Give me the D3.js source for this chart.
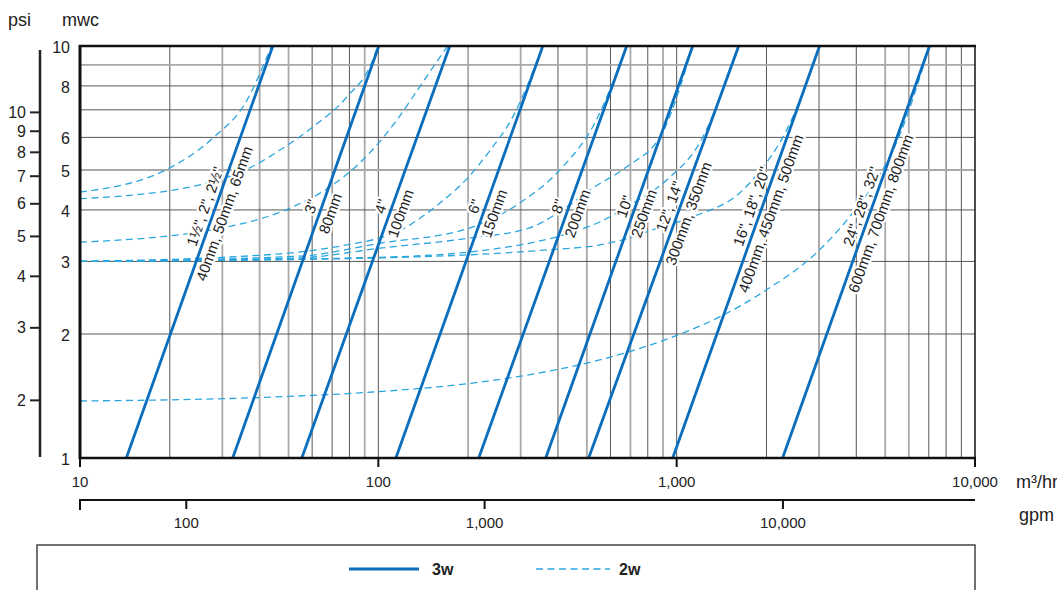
<!DOCTYPE html>
<html>
<head>
<meta charset="utf-8">
<script src="https://cdn.jsdelivr.net/npm/d3@7"></script>
<style>
  body { margin: 0; background: #fff; }
  svg { display: block; font-family: "Liberation Sans", Arial, sans-serif; }
  text { fill: #222; }
</style>
</head>
<body>
<svg width="1057" height="590"></svg>
<script>
// Valve sizes (one solid 3w line + one dashed 2w curve each)
const sizesInch = ['1½", 2", 2½"', '3"', '4"', '6"', '8"', '10"', '12", 14"', '16", 18", 20"', '24", 28", 32"'];
const sizesMm = ["40mm, 50mm, 65mm", "80mm", "100mm", "150mm", "200mm", "250mm", "300mm, 350mm", "400mm, 450mm, 500mm", "600mm, 700mm, 800mm"];

// 3w: flow (m3/hr) at 1 mwc and at 10 mwc
const flowAt1 = [14.3, 32.5, 55.4, 114.5, 217, 364, 507, 970, 2265];
const flowAt10 = [44.3, 100.4, 173.6, 356, 680, 1132, 1614, 3013, 7040];

// 2w curves: [flow m3/hr, head mwc]
const twoWay15 = [[10, 4.42], [20, 5.06], [27.9, 5.98], [36.3, 7.39], [42.3, 9.4], [43.8, 10]];
const twoWay3 = [[10, 4.26], [25.2, 4.6], [37.1, 5.06], [46.8, 5.59], [60.3, 6.36], [78.4, 7.52], [95.8, 9.25], [99.5, 10]];
const twoWay4 = [[10, 3.34], [30.1, 3.62], [51.7, 4.07], [68.8, 4.55], [88.7, 5.29], [115.3, 6.61], [130.5, 7.52], [164.4, 9.61], [171, 10]];
const twoWay6 = [[10, 3.0], [46.8, 3.13], [78.4, 3.29], [101, 3.42], [118, 3.56], [138, 3.82], [167, 4.25], [198, 4.76], [236, 5.56], [282, 6.72], [356, 10]];
const twoWay8 = [[10, 3.0], [54.6, 3.09], [101, 3.32], [203, 3.62], [298, 4.16], [415, 5.09], [523, 6.36], [680, 10]];
const twoWay10 = [[10, 3.0], [54.6, 3.06], [101, 3.23], [203, 3.42], [322, 3.62], [405, 3.96], [523, 4.52], [680, 5.09], [898, 6.18], [1132, 10]];
const twoWay12 = [[10, 3.0], [101, 3.07], [255, 3.23], [473, 3.58], [552, 3.74], [696, 4.11], [926, 4.73], [1194, 5.82], [1614, 10]];
const twoWay16 = [[10, 3.0], [101, 3.06], [367, 3.2], [552, 3.29], [712, 3.44], [831, 3.58], [1131, 3.85], [1626, 4.4], [1941, 5.06], [2336, 6.25], [3013, 10]];
const twoWay24 = [[10, 1.375], [44.3, 1.406], [95.8, 1.446], [207, 1.52], [348, 1.61], [552, 1.73], [1047, 2.01], [1393, 2.2], [2002, 2.56], [2944, 3.15], [3799, 3.85], [4677, 4.73], [5500, 5.91], [7040, 10]];
const twoWayCurves = [twoWay15, twoWay3, twoWay4, twoWay6, twoWay8, twoWay10, twoWay12, twoWay16, twoWay24];

// Axis ticks
const mwcTicks = [1, 2, 3, 4, 5, 6, 8, 10];
const psiTicks = [2, 3, 4, 5, 6, 7, 8, 9, 10];
const m3hTicks = [10, 100, 1000, 10000];
const gpmTicks = [100, 1000, 10000];
const lightGridX = [30, 40, 50, 90, 200, 300, 500, 700, 900, 5000, 6000];
const lightGridY = [5, 9];

const PSI_TO_MWC = 0.69;
const M3H_TO_GPM = 4.403;
const LABEL_HEAD = 4.0;

const svg = d3.select("svg");
const x = d3.scaleLog().domain([10, 10000]).range([80, 975]);
const y = d3.scaleLog().domain([1, 10]).range([458, 46]);
const fmt = d3.format(",");

const solidColor = "#0a6ebd";
const dashColor = "#2aa6df";

// Grid
const gridX = [];
[10, 100, 1000].forEach((d) => {
  for (let k = 1; k <= 9; k++) if (k * d > 10) gridX.push(k * d);
});
const gridY = [2, 3, 4, 5, 6, 7, 8, 9];

const grid = svg.append("g").attr("class", "grid");
grid
  .selectAll("line.gx")
  .data(gridX)
  .enter()
  .append("line")
  .attr("x1", (d) => x(d))
  .attr("x2", (d) => x(d))
  .attr("y1", y(10))
  .attr("y2", y(1))
  .attr("stroke", (d) => (lightGridX.includes(d) ? "#a9a9a9" : "#444"))
  .attr("stroke-width", (d) => (lightGridX.includes(d) ? 1.8 : 0.9));
grid
  .selectAll("line.gy")
  .data(gridY)
  .enter()
  .append("line")
  .attr("x1", x(10))
  .attr("x2", x(10000))
  .attr("y1", (d) => y(d))
  .attr("y2", (d) => y(d))
  .attr("stroke", (d) => (lightGridY.includes(d) ? "#a9a9a9" : "#444"))
  .attr("stroke-width", (d) => (lightGridY.includes(d) ? 1.8 : 0.9));

// 2w dashed curves
const curveLine = d3
  .line()
  .x((d) => x(d[0]))
  .y((d) => y(d[1]))
  .curve(d3.curveMonotoneX);

svg
  .append("g")
  .selectAll("path")
  .data(twoWayCurves)
  .enter()
  .append("path")
  .attr("d", curveLine)
  .attr("fill", "none")
  .attr("stroke", dashColor)
  .attr("stroke-width", 1.3)
  .attr("stroke-dasharray", "7,4.5");

// Size labels along the 3w lines
const labels = svg.append("g");
flowAt1.forEach((q1, i) => {
  const x1 = x(q1), y1 = y(1), x2 = x(flowAt10[i]), y2 = y(10);
  const angle = (Math.atan2(y2 - y1, x2 - x1) * 180) / Math.PI;
  const t = (y(1) - y(LABEL_HEAD)) / (y(1) - y(10));
  const px = x1 + t * (x2 - x1);
  const py = y1 + t * (y2 - y1);
  const g = labels.append("g").attr("transform", `translate(${px},${py}) rotate(${angle})`);
  [[sizesInch[i], -5], [sizesMm[i], 15.5]].forEach(([txt, dy]) => {
    g.append("text")
      .attr("y", dy)
      .attr("text-anchor", "middle")
      .attr("font-size", 15)
      .attr("stroke", "#fff")
      .attr("stroke-width", 4.5)
      .attr("stroke-linejoin", "round")
      .attr("paint-order", "stroke")
      .text(txt);
  });
});

// 3w solid lines
svg
  .append("g")
  .selectAll("line")
  .data(flowAt1)
  .enter()
  .append("line")
  .attr("x1", (d) => x(d))
  .attr("y1", y(1))
  .attr("x2", (d, i) => x(flowAt10[i]))
  .attr("y2", y(10))
  .attr("stroke", solidColor)
  .attr("stroke-width", 2.8);

// Plot frame
const frame = svg.append("g").attr("stroke", "#111");
frame.append("line").attr("x1", 79).attr("x2", 976).attr("y1", y(10)).attr("y2", y(10)).attr("stroke-width", 2.5);
frame.append("line").attr("x1", 79).attr("x2", 976).attr("y1", y(1)).attr("y2", y(1)).attr("stroke-width", 2.5);
frame.append("line").attr("x1", 80).attr("x2", 80).attr("y1", y(10) - 1).attr("y2", y(1) + 1).attr("stroke-width", 3);
frame.append("line").attr("x1", 975).attr("x2", 975).attr("y1", y(10)).attr("y2", y(1)).attr("stroke-width", 1.5);

// mwc labels
svg
  .append("g")
  .selectAll("text")
  .data(mwcTicks)
  .enter()
  .append("text")
  .attr("x", 70)
  .attr("y", (d) => y(d) + 7)
  .attr("text-anchor", "end")
  .attr("font-size", 16)
  .text((d) => d);

// psi axis
const psi = svg.append("g");
psi.append("line").attr("x1", 40).attr("x2", 40).attr("y1", 50).attr("y2", 457).attr("stroke", "#222").attr("stroke-width", 2.5);
psi
  .selectAll("line.t")
  .data(psiTicks)
  .enter()
  .append("line")
  .attr("x1", 30)
  .attr("x2", 40)
  .attr("y1", (d) => y(d * PSI_TO_MWC))
  .attr("y2", (d) => y(d * PSI_TO_MWC))
  .attr("stroke", "#222")
  .attr("stroke-width", 2);
psi
  .selectAll("text")
  .data(psiTicks)
  .enter()
  .append("text")
  .attr("x", 26)
  .attr("y", (d) => y(d * PSI_TO_MWC) + 5.5)
  .attr("text-anchor", "end")
  .attr("font-size", 16)
  .text((d) => d);

svg.append("text").attr("x", 8).attr("y", 26).attr("font-size", 18).text("psi");
svg.append("text").attr("x", 62).attr("y", 26).attr("font-size", 18).text("mwc");

// m3/hr axis ticks
const bottom = svg.append("g");
bottom
  .selectAll("line")
  .data(m3hTicks)
  .enter()
  .append("line")
  .attr("x1", (d) => x(d))
  .attr("x2", (d) => x(d))
  .attr("y1", y(1))
  .attr("y2", y(1) + 9)
  .attr("stroke", "#111")
  .attr("stroke-width", 2);
bottom
  .selectAll("text")
  .data(m3hTicks)
  .enter()
  .append("text")
  .attr("x", (d) => x(d))
  .attr("y", 487)
  .attr("text-anchor", "middle")
  .attr("font-size", 15)
  .text((d) => fmt(d));
svg.append("text").attr("x", 1016).attr("y", 488).attr("font-size", 18).text("m³/hr");

// gpm axis
const gpm = svg.append("g");
gpm.append("line").attr("x1", 79).attr("x2", 975).attr("y1", 500).attr("y2", 500).attr("stroke", "#111").attr("stroke-width", 2);
gpm.append("line").attr("x1", 80).attr("x2", 80).attr("y1", 499).attr("y2", 510).attr("stroke", "#111").attr("stroke-width", 2);
gpm
  .selectAll("line.t")
  .data(gpmTicks)
  .enter()
  .append("line")
  .attr("x1", (d) => x(d / M3H_TO_GPM))
  .attr("x2", (d) => x(d / M3H_TO_GPM))
  .attr("y1", 500)
  .attr("y2", 509)
  .attr("stroke", "#111")
  .attr("stroke-width", 2);
gpm
  .selectAll("text")
  .data(gpmTicks)
  .enter()
  .append("text")
  .attr("x", (d) => x(d / M3H_TO_GPM))
  .attr("y", 528)
  .attr("text-anchor", "middle")
  .attr("font-size", 15)
  .text((d) => fmt(d));
svg.append("text").attr("x", 1019).attr("y", 521).attr("font-size", 18).text("gpm");

// Legend
const legend = svg.append("g");
legend.append("rect").attr("x", 37).attr("y", 545).attr("width", 938).attr("height", 70).attr("fill", "none").attr("stroke", "#444").attr("stroke-width", 1.5);
legend.append("line").attr("x1", 349).attr("x2", 419).attr("y1", 569).attr("y2", 569).attr("stroke", solidColor).attr("stroke-width", 2.8);
legend.append("text").attr("x", 432).attr("y", 575).attr("font-size", 16).attr("font-weight", "bold").text("3w");
legend.append("line").attr("x1", 536).attr("x2", 610).attr("y1", 569).attr("y2", 569).attr("stroke", dashColor).attr("stroke-width", 1.3).attr("stroke-dasharray", "7,4.5");
legend.append("text").attr("x", 619).attr("y", 575).attr("font-size", 16).attr("font-weight", "bold").text("2w");
</script>
</body>
</html>
